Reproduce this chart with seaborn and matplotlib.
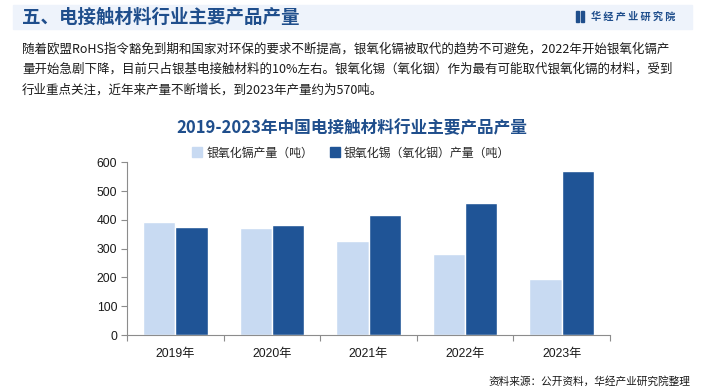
import matplotlib
matplotlib.use("Agg")
import matplotlib.pyplot as plt
import seaborn as sns
import pandas as pd
from matplotlib.patches import Rectangle
from matplotlib.lines import Line2D

# data
years = ["2019年", "2020年", "2021年", "2022年", "2023年"]
cdo_output = [392, 372, 327, 281, 195]
sno2_output = [375, 382, 417, 459, 570]
series_names = ["银氧化镉产量（吨）", "银氧化锡（氧化铟）产量（吨）"]
y_ticks = [0, 100, 200, 300, 400, 500, 600]

header = "五、电接触材料行业主要产品产量"
brand = "华 经 产 业 研 究 院"
paragraph = [
    "随着欧盟RoHS指令豁免到期和国家对环保的要求不断提高，银氧化镉被取代的趋势不可避免，2022年开始银氧化镉产",
    "量开始急剧下降，目前只占银基电接触材料的10%左右。银氧化锡（氧化铟）作为最有可能取代银氧化镉的材料，受到",
    "行业重点关注，近年来产量不断增长，到2023年产量约为570吨。",
]
chart_title = "2019-2023年中国电接触材料行业主要产品产量"
source = "资料来源：公开资料，华经产业研究院整理"

light = "#C8DAF2"
dark = "#1F5496"
navy = "#1F4E8C"

sns.set_theme(style="white")
plt.rcParams["font.family"] = ["Liberation Sans", "Noto Sans CJK SC", "DejaVu Sans"]
cjk = ["Noto Sans CJK SC", "DejaVu Sans"]

df = pd.DataFrame({
    "year": years * 2,
    "value": cdo_output + sno2_output,
    "series": [series_names[0]] * len(years) + [series_names[1]] * len(years),
})

W, H = 705, 392
fig = plt.figure(figsize=(W / 100, H / 100), dpi=100)
fig.patch.set_facecolor("white")

# header band
fig.patches.append(Rectangle((13 / W, 1 - 29 / H), 679 / W, 24 / H,
                             transform=fig.transFigure, color="#EEF3FB", zorder=0))
fig.text(22 / W, 1 - 17 / H, header, family=cjk, fontsize=13.3, weight="bold",
         color=navy, va="center", ha="left")
fig.patches.append(Rectangle((576 / W, 1 - 22 / H), 3 / W, 11 / H,
                             transform=fig.transFigure, color=navy, zorder=2))
fig.patches.append(Rectangle((581 / W, 1 - 22 / H), 3 / W, 11 / H,
                             transform=fig.transFigure, color=navy, zorder=2))
fig.text(591 / W, 1 - 16.5 / H, brand, family=cjk, fontsize=7.3, weight="bold",
         color=navy, va="center", ha="left")

for i, line in enumerate(paragraph):
    fig.text(22 / W, 1 - (49 + 20.5 * i) / H, line, family=cjk, fontsize=9.0,
             color="#1a1a1a", va="center", ha="left")

fig.text(352 / W, 1 - 128 / H, chart_title, family=cjk, fontsize=12, weight="bold",
         color=navy, va="center", ha="center")

ax = fig.add_axes([127 / W, 1 - 335 / H, 483 / W, 172.7 / H])
sns.barplot(data=df, x="year", y="value", hue="series", order=years,
            hue_order=series_names, palette=[light, dark], width=0.67,
            gap=0, saturation=1, ax=ax, legend=False)

ax.set_ylim(0, 600)
ax.set_xlim(-0.5, len(years) - 0.5)
ax.set_yticks(y_ticks)
ax.set_xlabel("")
ax.set_ylabel("")
for s in ["top", "right"]:
    ax.spines[s].set_visible(False)
for s in ["left", "bottom"]:
    ax.spines[s].set_color("#8c8c8c")
    ax.spines[s].set_linewidth(0.8)
ax.tick_params(axis="y", length=4, width=0.8, color="#8c8c8c", direction="out",
               labelsize=8.8, labelcolor="#1a1a1a", pad=3, left=True)
ax.tick_params(axis="x", which="major", length=0, labelsize=8.8,
               labelcolor="#1a1a1a", pad=9)
ax.set_xticks([i - 0.5 for i in range(len(years) + 1)], minor=True)
ax.tick_params(axis="x", which="minor", length=4, width=0.8, color="#8c8c8c",
               direction="out", bottom=True)

handles = [Line2D([], [], marker="s", linestyle="", markersize=6.5,
                  markerfacecolor=c, markeredgecolor=c) for c in (light, dark)]
fig.legend(handles, series_names, loc="center", ncol=2,
           bbox_to_anchor=(351 / W, 1 - 153 / H), frameon=False,
           prop={"family": cjk, "size": 8.6}, handletextpad=0.3,
           columnspacing=1.4, handlelength=0.9)

fig.text(690 / W, 1 - 381 / H, source, family=cjk, fontsize=7.7,
         color="#1a1a1a", va="center", ha="right")

fig.savefig("out.png", dpi=100)
